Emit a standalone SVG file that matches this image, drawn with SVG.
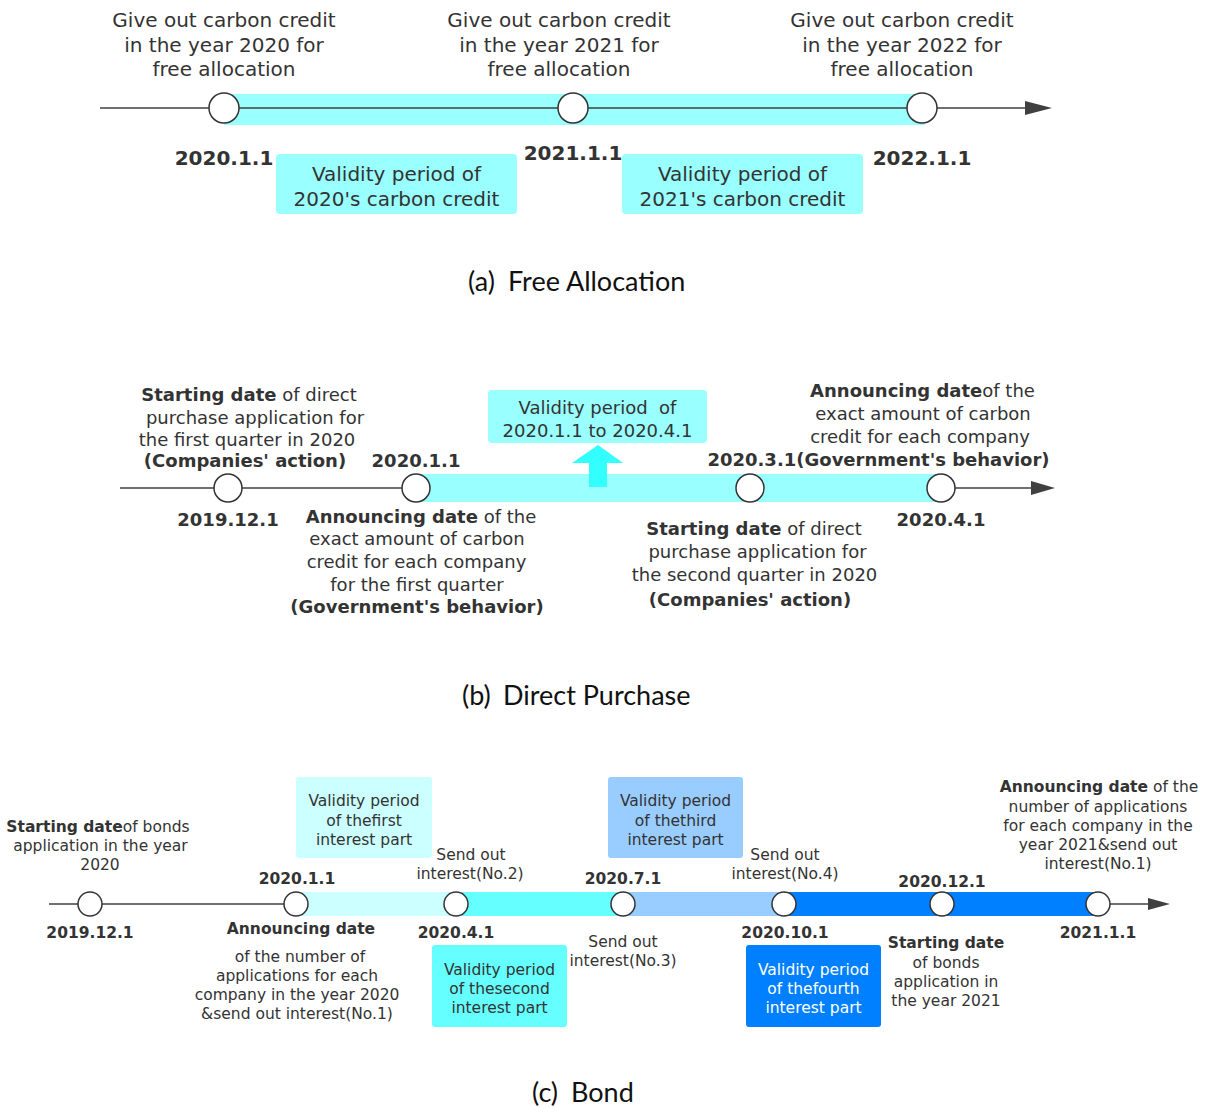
<svg xmlns="http://www.w3.org/2000/svg" width="1205" height="1108" viewBox="0 0 1205 1108">
<defs>
<style>
.t{font-family:"DejaVu Sans","Liberation Sans",sans-serif;fill:#333333;text-anchor:middle}
.a{font-size:20px}
.b{font-size:18px}
.c{font-size:15.5px}
.bd{font-weight:bold}
.cap{font-family:Lato,"Liberation Sans",sans-serif;font-size:27px;fill:#111111}
.ax{stroke:#404040;stroke-width:1.5;fill:none}
.pt{fill:#ffffff;stroke:#333333;stroke-width:1.5}
.hd{fill:#404040}
</style>
</defs>
<rect width="1205" height="1108" fill="#ffffff"/>

<!-- (a) Free Allocation -->
<g id="a-band"><rect x="224" y="94" width="701" height="31" fill="#99FFFF"/></g>
<g id="connectors">
<line class="ax" x1="100" y1="108" x2="1030" y2="108"/>
<polygon class="hd" points="1025,101 1052,108 1025,115"/>
<line class="ax" x1="120" y1="488" x2="1035" y2="488"/>
<polygon class="hd" points="1031,481 1055,488 1031,495"/>
<line class="ax" x1="49" y1="904" x2="1150" y2="904"/>
<polygon class="hd" points="1148,898 1170,904 1148,910"/>
</g>
<g id="a-2020">
<circle class="pt" cx="224" cy="108" r="15"/>
<text class="t a"><tspan x="224" y="27">Give out carbon credit</tspan><tspan x="224" y="51.5">in the year 2020 for</tspan><tspan x="224" y="76">free allocation</tspan></text>
<text class="t a bd" x="224" y="165">2020.1.1</text>
</g>
<g id="a-2021">
<circle class="pt" cx="573" cy="108" r="15"/>
<text class="t a"><tspan x="559" y="27">Give out carbon credit</tspan><tspan x="559" y="51.5">in the year 2021 for</tspan><tspan x="559" y="76">free allocation</tspan></text>
<text class="t a bd" x="573" y="160">2021.1.1</text>
</g>
<g id="a-2022">
<circle class="pt" cx="922" cy="108" r="15"/>
<text class="t a"><tspan x="902" y="27">Give out carbon credit</tspan><tspan x="902" y="51.5">in the year 2022 for</tspan><tspan x="902" y="76">free allocation</tspan></text>
<text class="t a bd" x="922" y="165">2022.1.1</text>
</g>
<g id="a-box1">
<rect x="276" y="154" width="241" height="60" rx="4" fill="#99FFFF"/>
<text class="t a"><tspan x="396.5" y="181">Validity period of</tspan><tspan x="396.5" y="206">2020's carbon credit</tspan></text>
</g>
<g id="a-box2">
<rect x="622" y="154" width="241" height="60" rx="4" fill="#99FFFF"/>
<text class="t a"><tspan x="742.5" y="181">Validity period of</tspan><tspan x="742.5" y="206">2021's carbon credit</tspan></text>
</g>
<g id="cap-a"><text class="cap" x="468" y="291">(a)</text><text class="cap" x="508" y="291">Free Allocation</text></g>

<!-- (b) Direct Purchase -->
<g id="b-band"><rect x="416" y="474" width="526" height="28" fill="#99FFFF"/></g>
<g id="b-uparrow"><polygon points="589,487 607,487 607,463 623,463 598,445 572,463 589,463" fill="#33FFFF"/></g>
<g id="b-box">
<rect x="488" y="390" width="219" height="53" rx="4" fill="#99FFFF"/>
<text class="t b" xml:space="preserve"><tspan x="597.5" y="414">Validity period  of</tspan><tspan x="597.5" y="437">2020.1.1 to 2020.4.1</tspan></text>
</g>
<g id="b-20191201">
<circle class="pt" cx="228" cy="488" r="14"/>
<text class="t b"><tspan x="249" y="401"><tspan class="bd">Starting date</tspan> of direct</tspan><tspan x="255" y="424">purchase application for</tspan><tspan x="247" y="446">the first quarter in 2020</tspan><tspan x="245" y="467" class="bd">(Companies' action)</tspan></text>
<text class="t b bd" x="228" y="526">2019.12.1</text>
</g>
<g id="b-20200101">
<circle class="pt" cx="416" cy="488" r="14"/>
<text class="t b bd" x="416" y="467">2020.1.1</text>
<text class="t b"><tspan x="421" y="523"><tspan class="bd">Announcing date</tspan> of the</tspan><tspan x="417" y="545">exact amount of carbon</tspan><tspan x="416.5" y="568">credit for each company</tspan><tspan x="417" y="591">for the first quarter</tspan><tspan x="417" y="613" class="bd">(Government's behavior)</tspan></text>
</g>
<g id="b-20200301">
<circle class="pt" cx="750" cy="488" r="14"/>
<text class="t b"><tspan x="754" y="535"><tspan class="bd">Starting date</tspan> of direct</tspan><tspan x="757.5" y="558">purchase application for</tspan><tspan x="754.5" y="581">the second quarter in 2020</tspan><tspan x="750" y="606" class="bd">(Companies' action)</tspan></text>
</g>
<g id="b-20200401">
<circle class="pt" cx="941" cy="488" r="14"/>
<text class="t b"><tspan x="922.5" y="397"><tspan class="bd">Announcing date</tspan>of the</tspan><tspan x="923" y="420">exact amount of carbon</tspan><tspan x="920" y="443">credit for each company</tspan><tspan x="878.5" y="466" class="bd">2020.3.1(Government's behavior)</tspan></text>
<text class="t b bd" x="941" y="526">2020.4.1</text>
</g>
<g id="cap-b"><text class="cap" x="462" y="705">(b)</text><text class="cap" x="503" y="705">Direct Purchase</text></g>

<!-- (c) Bond -->
<g id="c-bands">
<rect x="296" y="892" width="160" height="24" fill="#CCFFFF"/>
<rect x="456" y="892" width="167" height="24" fill="#66FFFF"/>
<rect x="623" y="892" width="161" height="24" fill="#99CCFF"/>
<rect x="784" y="892" width="314" height="24" fill="#007FFF"/>
</g>
<g id="c-box1">
<rect x="296" y="777" width="136" height="81" rx="3" fill="#CCFFFF"/>
<text class="t c"><tspan x="364" y="806">Validity period</tspan><tspan x="364" y="826">of thefirst</tspan><tspan x="364" y="845">interest part</tspan></text>
</g>
<g id="c-box2">
<rect x="432" y="945" width="135" height="82" rx="3" fill="#66FFFF"/>
<text class="t c"><tspan x="499.5" y="975">Validity period</tspan><tspan x="499.5" y="994">of thesecond</tspan><tspan x="499.5" y="1013">interest part</tspan></text>
</g>
<g id="c-box3">
<rect x="608" y="777" width="135" height="81" rx="3" fill="#99CCFF"/>
<text class="t c"><tspan x="675.5" y="806">Validity period</tspan><tspan x="675.5" y="826">of thethird</tspan><tspan x="675.5" y="845">interest part</tspan></text>
</g>
<g id="c-box4">
<rect x="746" y="945" width="135" height="82" rx="3" fill="#007FFF"/>
<text class="t c" style="fill:#ffffff"><tspan x="813.5" y="975">Validity period</tspan><tspan x="813.5" y="994">of thefourth</tspan><tspan x="813.5" y="1013">interest part</tspan></text>
</g>
<g id="c-20191201">
<circle class="pt" cx="90" cy="904" r="12"/>
<text class="t c"><tspan x="98" y="832"><tspan class="bd">Starting date</tspan>of bonds</tspan><tspan x="100.5" y="851">application in the year</tspan><tspan x="100" y="870">2020</tspan></text>
<text class="t c bd" x="90" y="938">2019.12.1</text>
</g>
<g id="c-20200101">
<circle class="pt" cx="296" cy="904" r="12"/>
<text class="t c bd" x="297" y="884">2020.1.1</text>
<text class="t c bd" x="301" y="934">Announcing date</text>
<text class="t c"><tspan x="300" y="962">of the number of</tspan><tspan x="297" y="981">applications for each</tspan><tspan x="297" y="1000">company in the year 2020</tspan><tspan x="297" y="1019">&amp;send out interest(No.1)</tspan></text>
</g>
<g id="c-20200401">
<circle class="pt" cx="456" cy="904" r="12"/>
<text class="t c"><tspan x="471" y="860">Send out</tspan><tspan x="470" y="879">interest(No.2)</tspan></text>
<text class="t c bd" x="456" y="938">2020.4.1</text>
</g>
<g id="c-20200701">
<circle class="pt" cx="623" cy="904" r="12"/>
<text class="t c bd" x="623" y="884">2020.7.1</text>
<text class="t c"><tspan x="623" y="947">Send out</tspan><tspan x="623" y="966">interest(No.3)</tspan></text>
</g>
<g id="c-20201001">
<circle class="pt" cx="784" cy="904" r="12"/>
<text class="t c"><tspan x="785" y="860">Send out</tspan><tspan x="785" y="879">interest(No.4)</tspan></text>
<text class="t c bd" x="785" y="938">2020.10.1</text>
</g>
<g id="c-20201201">
<circle class="pt" cx="942" cy="904" r="12"/>
<text class="t c bd" x="942" y="887">2020.12.1</text>
<text class="t c"><tspan x="946" y="948" class="bd">Starting date</tspan><tspan x="946" y="968">of bonds</tspan><tspan x="946" y="987">application in</tspan><tspan x="946" y="1006">the year 2021</tspan></text>
</g>
<g id="c-20210101">
<circle class="pt" cx="1098" cy="904" r="12"/>
<text class="t c bd" x="1098" y="938">2021.1.1</text>
<text class="t c"><tspan x="1099" y="792"><tspan class="bd">Announcing date</tspan> of the</tspan><tspan x="1098" y="812">number of applications</tspan><tspan x="1098" y="831">for each company in the</tspan><tspan x="1098" y="850">year 2021&amp;send out</tspan><tspan x="1098" y="869">interest(No.1)</tspan></text>
</g>
<g id="cap-c"><text class="cap" x="532" y="1102">(c)</text><text class="cap" x="571" y="1102">Bond</text></g>
</svg>
